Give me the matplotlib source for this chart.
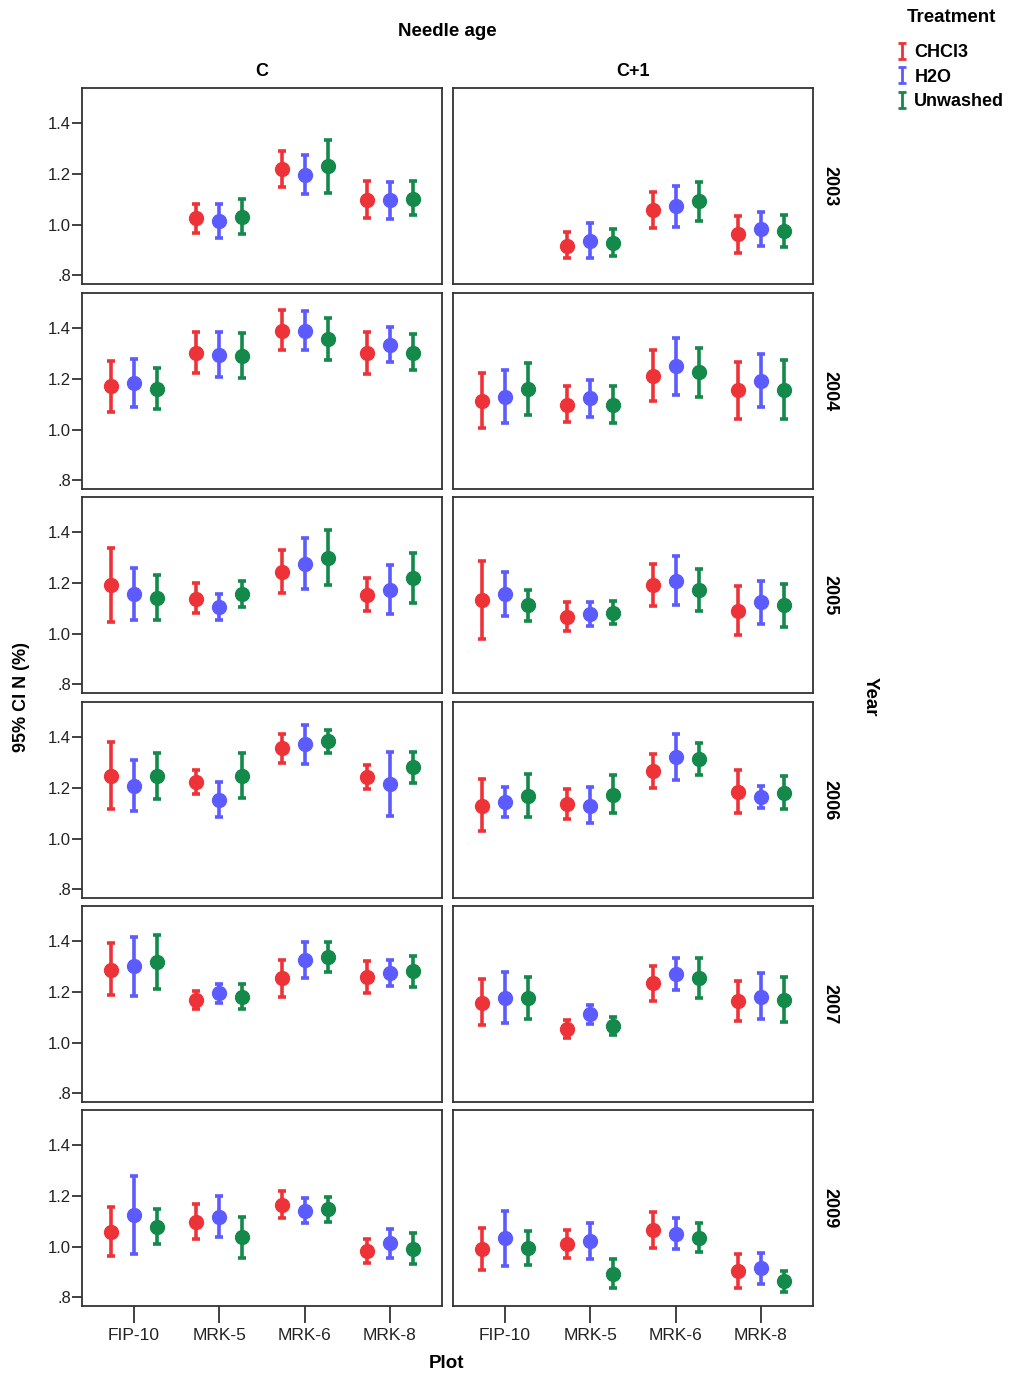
import numpy as np
import matplotlib
matplotlib.use("Agg")
import matplotlib.pyplot as plt
from matplotlib.path import Path
from matplotlib.lines import Line2D

nan = np.nan

years = ["2003", "2004", "2005", "2006", "2007", "2009"]
plots = ["FIP-10", "MRK-5", "MRK-6", "MRK-8"]
ages = ["C", "C+1"]
treatments = ["CHCl3", "H2O", "Unwashed"]
colors = ["#ee3338", "#5b5bff", "#13894a"]

# values per year -> [CHCl3, H2O, Unwashed] -> plots
c_mean = [
    [[nan, 1.026, 1.218, 1.096], [nan, 1.013, 1.197, 1.096], [nan, 1.030, 1.230, 1.103]],
    [[1.171, 1.303, 1.391, 1.302], [1.184, 1.295, 1.391, 1.335], [1.162, 1.290, 1.358, 1.303]],
    [[1.191, 1.138, 1.243, 1.154], [1.157, 1.105, 1.274, 1.171], [1.142, 1.155, 1.300, 1.220]],
    [[1.247, 1.225, 1.357, 1.245], [1.208, 1.151, 1.372, 1.217], [1.247, 1.249, 1.384, 1.283]],
    [[1.287, 1.167, 1.254, 1.261], [1.303, 1.195, 1.326, 1.276], [1.318, 1.182, 1.339, 1.282]],
    [[1.059, 1.099, 1.166, 0.982], [1.124, 1.116, 1.139, 1.013], [1.079, 1.037, 1.147, 0.991]],
]
c_lo = [
    [[nan, 0.967, 1.147, 1.024], [nan, 0.947, 1.122, 1.022], [nan, 0.963, 1.125, 1.036]],
    [[1.071, 1.224, 1.315, 1.218], [1.090, 1.208, 1.316, 1.267], [1.081, 1.203, 1.276, 1.234]],
    [[1.046, 1.080, 1.159, 1.089], [1.053, 1.054, 1.175, 1.076], [1.053, 1.104, 1.193, 1.121]],
    [[1.117, 1.176, 1.300, 1.197], [1.109, 1.087, 1.293, 1.091], [1.157, 1.159, 1.339, 1.218]],
    [[1.187, 1.134, 1.182, 1.197], [1.184, 1.157, 1.254, 1.224], [1.213, 1.134, 1.280, 1.221]],
    [[0.964, 1.030, 1.112, 0.936], [0.971, 1.037, 1.093, 0.955], [1.009, 0.955, 1.099, 0.930]],
]
c_hi = [
    [[nan, 1.083, 1.289, 1.171], [nan, 1.082, 1.276, 1.170], [nan, 1.101, 1.336, 1.172]],
    [[1.273, 1.384, 1.473, 1.387], [1.280, 1.384, 1.469, 1.404], [1.244, 1.380, 1.443, 1.378]],
    [[1.339, 1.201, 1.329, 1.220], [1.261, 1.157, 1.378, 1.272], [1.233, 1.207, 1.411, 1.320]],
    [[1.380, 1.272, 1.413, 1.292], [1.311, 1.222, 1.451, 1.343], [1.339, 1.337, 1.429, 1.343]],
    [[1.392, 1.204, 1.326, 1.321], [1.418, 1.233, 1.397, 1.326], [1.424, 1.232, 1.399, 1.342]],
    [[1.155, 1.168, 1.221, 1.030], [1.280, 1.199, 1.191, 1.068], [1.149, 1.118, 1.197, 1.055]],
]
c1_mean = [
    [[nan, 0.917, 1.057, 0.961], [nan, 0.936, 1.072, 0.984], [nan, 0.929, 1.092, 0.975]],
    [[1.112, 1.099, 1.212, 1.156], [1.129, 1.123, 1.250, 1.193], [1.161, 1.099, 1.227, 1.158]],
    [[1.132, 1.066, 1.191, 1.089], [1.157, 1.076, 1.208, 1.125], [1.112, 1.083, 1.172, 1.112]],
    [[1.130, 1.137, 1.267, 1.184], [1.146, 1.130, 1.322, 1.163], [1.168, 1.174, 1.314, 1.182]],
    [[1.158, 1.053, 1.234, 1.163], [1.176, 1.111, 1.271, 1.182], [1.176, 1.066, 1.255, 1.168]],
    [[0.991, 1.009, 1.064, 0.903], [1.033, 1.021, 1.050, 0.914], [0.996, 0.893, 1.034, 0.863]],
]
c1_lo = [
    [[nan, 0.866, 0.987, 0.888], [nan, 0.866, 0.992, 0.917], [nan, 0.875, 1.016, 0.911]],
    [[1.008, 1.029, 1.112, 1.042], [1.025, 1.051, 1.137, 1.089], [1.058, 1.025, 1.129, 1.041]],
    [[0.979, 1.011, 1.108, 0.996], [1.071, 1.030, 1.114, 1.039], [1.049, 1.039, 1.089, 1.024]],
    [[1.028, 1.078, 1.201, 1.100], [1.086, 1.061, 1.233, 1.122], [1.086, 1.100, 1.251, 1.116]],
    [[1.070, 1.017, 1.166, 1.086], [1.079, 1.072, 1.209, 1.092], [1.095, 1.028, 1.176, 1.083]],
    [[0.908, 0.955, 0.993, 0.836], [0.924, 0.949, 0.989, 0.851], [0.929, 0.836, 0.979, 0.820]],
]
c1_hi = [
    [[nan, 0.972, 1.129, 1.034], [nan, 1.007, 1.154, 1.049], [nan, 0.984, 1.167, 1.039]],
    [[1.224, 1.174, 1.315, 1.267], [1.234, 1.196, 1.362, 1.299], [1.265, 1.174, 1.323, 1.275]],
    [[1.286, 1.125, 1.275, 1.188], [1.243, 1.125, 1.305, 1.207], [1.174, 1.128, 1.257, 1.197]],
    [[1.236, 1.196, 1.334, 1.270], [1.205, 1.204, 1.414, 1.207], [1.254, 1.251, 1.378, 1.246]],
    [[1.250, 1.088, 1.303, 1.242], [1.279, 1.149, 1.333, 1.276], [1.258, 1.103, 1.333, 1.259]],
    [[1.072, 1.066, 1.136, 0.971], [1.141, 1.093, 1.114, 0.974], [1.063, 0.951, 1.092, 0.905]],
]

yticks = [0.8, 1.0, 1.2, 1.4]
ytick_labels = [".8", "1.0", "1.2", "1.4"]

plt.rcParams["font.family"] = ["Liberation Sans", "DejaVu Sans"]

W, H = 1015, 1378
fig = plt.figure(figsize=(W / 100, H / 100), dpi=100)

col_left = [82, 453]
row_top = [88, 293, 497, 702, 906, 1110]
pw, ph = 360, 196
offsets = [-0.27, 0.0, 0.27]
data = {"C": (c_mean, c_lo, c_hi), "C+1": (c1_mean, c1_lo, c1_hi)}
x = np.arange(len(plots))

for r, yr in enumerate(years):
    for c, age in enumerate(ages):
        ax = fig.add_axes([col_left[c] / W, 1 - (row_top[r] + ph) / H, pw / W, ph / H])
        mean, lo, hi = data[age]
        for t in range(3):
            m = np.array(mean[r][t])
            l = np.array(lo[r][t])
            h = np.array(hi[r][t])
            ax.errorbar(x + offsets[t], m, yerr=[m - l, h - m], fmt="o", color=colors[t],
                        ms=10, elinewidth=2.6, capsize=3, capthick=2.6)
        ax.set_xlim(-0.61, 3.61)
        ax.set_ylim(0.765, 1.54)
        for s in ax.spines.values():
            s.set_color("#333333")
            s.set_linewidth(1.3)
        ax.set_yticks(yticks)
        if c == 0:
            ax.set_yticklabels(ytick_labels, fontsize=12, color="#222222")
            ax.tick_params(axis="y", length=7, width=1.3, color="#333333", pad=1)
        else:
            ax.tick_params(axis="y", left=False, labelleft=False)
        ax.set_xticks(x)
        if r == len(years) - 1:
            ax.set_xticklabels(plots, fontsize=12.5, color="#222222")
            ax.tick_params(axis="x", length=12, width=1.3, color="#333333", pad=4)
        else:
            ax.tick_params(axis="x", bottom=False, labelbottom=False)
        if c == 1:
            ax.text(1.0 + 17 / pw, 0.5, yr, transform=ax.transAxes, rotation=-90,
                    ha="center", va="center", fontsize=13, fontweight="bold")

fig.text(447 / W, 1 - 32 / H, "Needle age", ha="center", va="center", fontsize=13.5, fontweight="bold")
fig.text(262 / W, 1 - 71 / H, "C", ha="center", va="center", fontsize=13, fontweight="bold")
fig.text(633 / W, 1 - 71 / H, "C+1", ha="center", va="center", fontsize=13, fontweight="bold")
fig.text(447 / W, 1 - 1364 / H, "Plot", ha="center", va="center", fontsize=13.5, fontweight="bold")
fig.text(22 / W, 1 - 697 / H, "95% CI N (%)", ha="center", va="center", rotation=90,
         fontsize=13, fontweight="bold")
fig.text(870 / W, 1 - 697 / H, "Year", ha="center", va="center", rotation=-90,
         fontsize=13.5, fontweight="bold")

# legend with I-shaped glyphs
fig.text(951 / W, 1 - 18 / H, "Treatment", ha="center", va="center", fontsize=13.5, fontweight="bold")
ibar = Path([(-0.5, 1), (0.5, 1), (0, 1), (0, -1), (-0.5, -1), (0.5, -1)],
            [Path.MOVETO, Path.LINETO, Path.MOVETO, Path.LINETO, Path.MOVETO, Path.LINETO])
handles = [Line2D([], [], linestyle="none", marker=ibar, markersize=12, markeredgewidth=2,
                  markeredgecolor=col, markerfacecolor="none") for col in colors]
leg = fig.legend(handles, treatments, loc="upper left", bbox_to_anchor=(889 / W, 1 - 37 / H),
                 frameon=False, handlelength=0.6, handletextpad=0.4, labelspacing=0.42,
                 borderaxespad=0, prop={"size": 13, "weight": "bold"})

fig.savefig("out.png", dpi=100)
